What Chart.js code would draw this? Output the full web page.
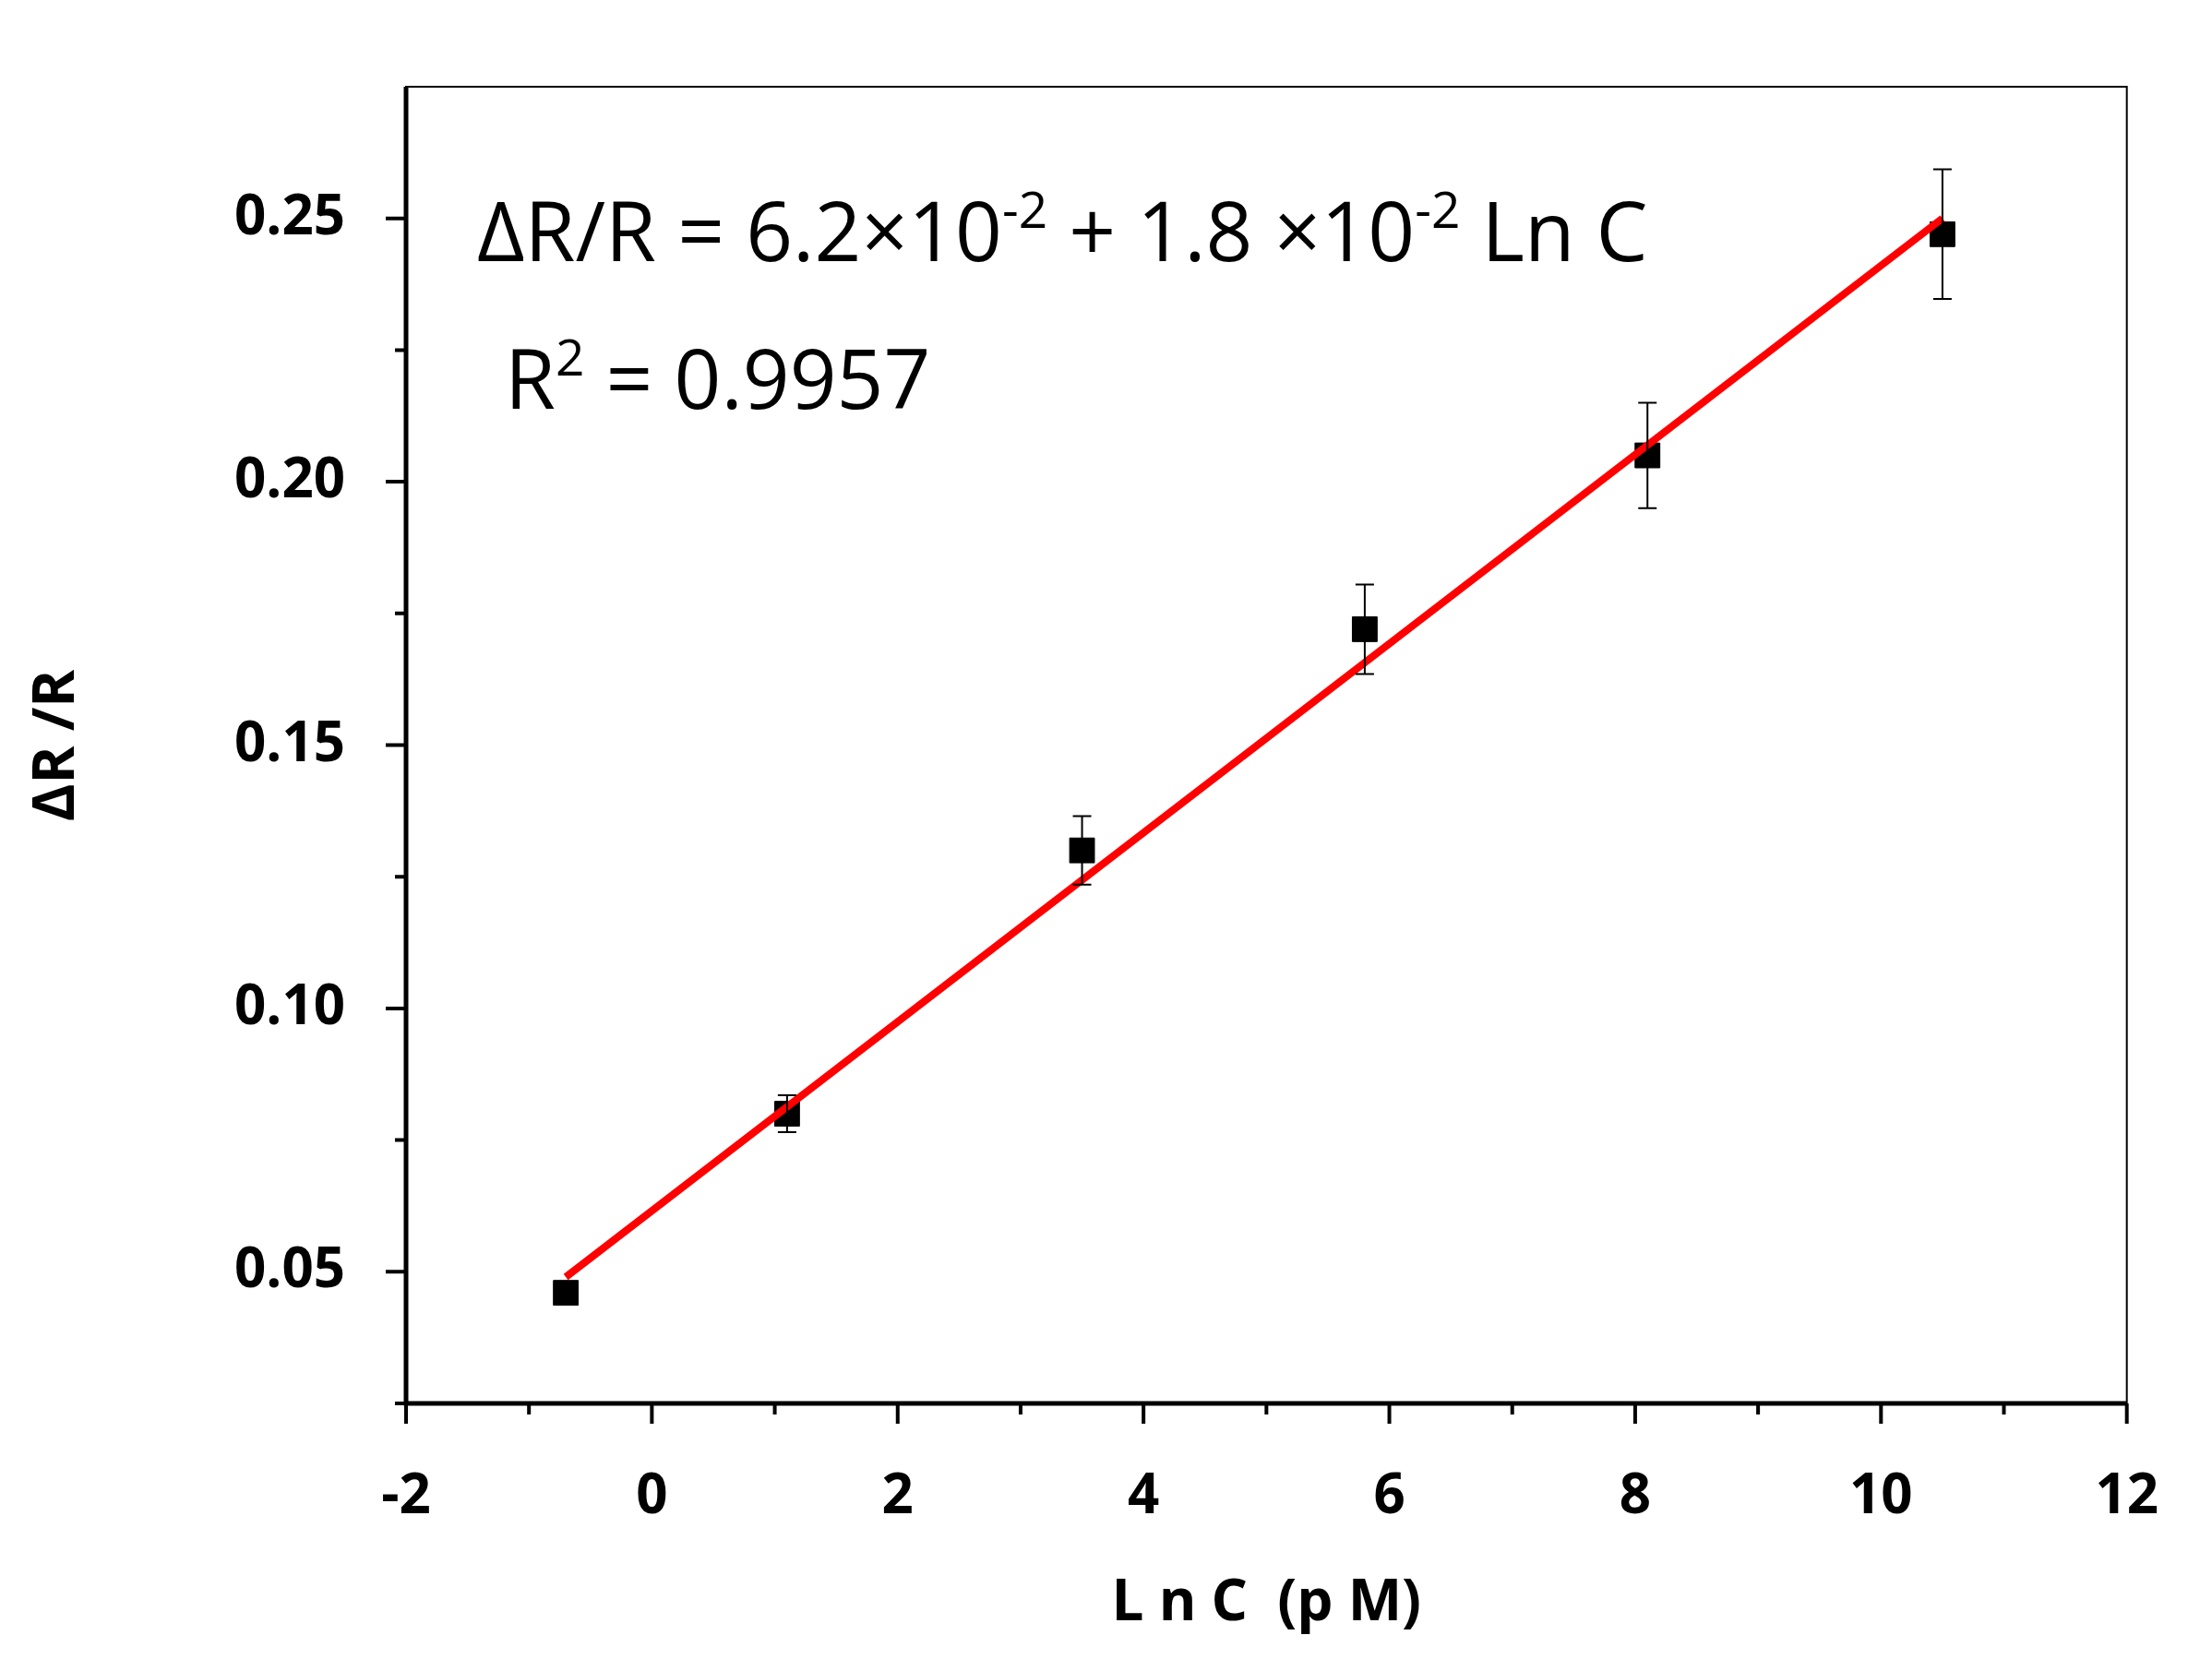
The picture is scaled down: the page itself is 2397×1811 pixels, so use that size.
<!DOCTYPE html>
<html>
<head>
<script src="https://cdn.jsdelivr.net/npm/chart.js@4"></script>
<style>body{margin:0;background:#fff}</style>
</head>
<body>
<canvas id="c" width="2397" height="1811"></canvas>
<script>
// data
const lnC = [-0.7, 1.1, 3.5, 5.8, 8.1, 10.5];
const dRR = [0.046, 0.080, 0.130, 0.172, 0.205, 0.247];
const errs = [0.0015, 0.0035, 0.0065, 0.0085, 0.010, 0.0123];
const fitX = [-0.7, 10.5];
const fitY = [0.049, 0.250];
const xTicks = [-2, 0, 2, 4, 6, 8, 10, 12];
const yTicks = [0.05, 0.10, 0.15, 0.20, 0.25];

const FONT = '"Open Sans", "Liberation Sans", sans-serif';

const decor = {
    id: 'decor',
    afterDatasetsDraw(chart) {
        const ctx = chart.ctx, a = chart.chartArea;
        const xs = chart.scales.x, ys = chart.scales.y;
        ctx.save();
        // error bars
        ctx.strokeStyle = '#000';
        ctx.lineWidth = 2;
        lnC.forEach((x, i) => {
            const px = xs.getPixelForValue(x);
            const t = ys.getPixelForValue(dRR[i] + errs[i]);
            const b = ys.getPixelForValue(dRR[i] - errs[i]);
            ctx.beginPath();
            ctx.moveTo(px, t); ctx.lineTo(px, b);
            ctx.moveTo(px - 10, t); ctx.lineTo(px + 10, t);
            ctx.moveTo(px - 10, b); ctx.lineTo(px + 10, b);
            ctx.stroke();
        });
        // frame
        ctx.lineWidth = 2;
        ctx.strokeRect(a.left, a.top, a.right - a.left, a.bottom - a.top);
        ctx.lineWidth = 5;
        ctx.beginPath();
        ctx.moveTo(a.left, a.top); ctx.lineTo(a.left, a.bottom); ctx.lineTo(a.right, a.bottom);
        ctx.stroke();
        // ticks
        ctx.lineWidth = 4;
        ctx.beginPath();
        for (let v = -2; v <= 12; v += 1) {
            const px = xs.getPixelForValue(v);
            const len = v % 2 === 0 ? 22 : 12;
            ctx.moveTo(px, a.bottom); ctx.lineTo(px, a.bottom + len);
        }
        for (let k = 1; k <= 10; k++) {
            const v = 0.025 * k;
            if (v > ys.max) break;
            const py = ys.getPixelForValue(v);
            const len = k % 2 === 0 ? 22 : 12;
            ctx.moveTo(a.left, py); ctx.lineTo(a.left - len, py);
        }
        ctx.stroke();
        // axis titles
        ctx.fillStyle = '#000';
        ctx.font = 'bold 62px ' + FONT;
        ctx.textAlign = 'center';
        ctx.textBaseline = 'middle';
        ctx.fillText('L n C  (p M)', (a.left + a.right) / 2, 1738);
        ctx.save();
        ctx.translate(62, 808);
        ctx.rotate(-Math.PI / 2);
        ctx.fillText('ΔR /R', 0, 0);
        ctx.restore();
        // equation
        ctx.textAlign = 'left';
        ctx.textBaseline = 'alphabetic';
        const big = '89px ' + FONT, sup = '55px ' + FONT;
        let x = 517;
        const parts = [['ΔR/R = 6.2×10', big, 0], ['-2', sup, -36], [' + 1.8 ×10', big, 0], ['-2', sup, -36], [' Ln C', big, 0]];
        parts.forEach(p => { ctx.font = p[1]; ctx.fillText(p[0], x, 283 + p[2]); x += ctx.measureText(p[0]).width; });
        x = 547;
        [['R', big, 0], ['2', sup, -36], [' = 0.9957', big, 0]].forEach(p => {
            ctx.font = p[1]; ctx.fillText(p[0], x, 443 + p[2]); x += ctx.measureText(p[0]).width;
        });
        ctx.restore();
    }
};

new Chart(document.getElementById('c'), {
    type: 'scatter',
    data: {
        datasets: [{
            data: lnC.map((x, i) => ({ x: x, y: dRR[i] })),
            pointStyle: 'rect',
            pointRadius: 19,
            backgroundColor: '#000',
            borderColor: '#000',
            order: 1
        }, {
            type: 'line',
            data: fitX.map((x, i) => ({ x: x, y: fitY[i] })),
            borderColor: '#ff0000',
            borderWidth: 8,
            pointRadius: 0,
            order: 0
        }]
    },
    options: {
        responsive: false,
        animation: false,
        layout: { padding: { top: 0, right: 31, left: 0, bottom: 0 } },
        plugins: { legend: { display: false }, tooltip: { enabled: false } },
        scales: {
            x: {
                type: 'linear', min: -2, max: 12,
                afterBuildTicks: s => { s.ticks = xTicks.map(v => ({ value: v })); },
                afterFit: s => { s.height = 290; },
                grid: { display: false },
                border: { display: false },
                ticks: { padding: 58, color: '#000', font: { family: FONT, size: 60, weight: 'bold' } }
            },
            y: {
                type: 'linear', min: 0.025, max: 0.275,
                afterBuildTicks: s => { s.ticks = yTicks.map(v => ({ value: v })); },
                afterFit: s => { s.width = 440; },
                grid: { display: false },
                border: { display: false },
                ticks: { padding: 58, color: '#000', font: { family: FONT, size: 60, weight: 'bold' },
                    callback: v => v.toFixed(2) }
            }
        }
    },
    plugins: [decor]
});
</script>
</body>
</html>
